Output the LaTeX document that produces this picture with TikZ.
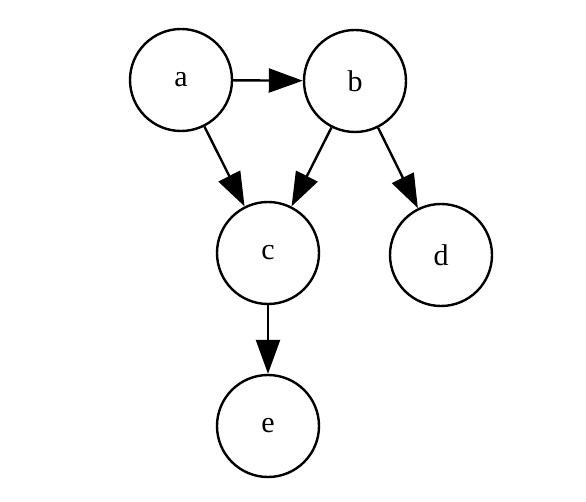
\documentclass[tikz,border=0pt]{standalone}
\usepackage{fontspec}
\setmainfont{Liberation Serif}
\usetikzlibrary{arrows.meta}
\begin{document}
\begin{tikzpicture}[x=1pt,y=-1pt,
  vtx/.style={circle,draw=black,line width=2.4pt,minimum size=102pt,inner sep=0pt,font=\fontsize{30}{36}\selectfont},
  edge/.style={line width=2.4pt,-{Triangle[length=34pt,width=24pt]}}]
\useasboundingbox (0,0) rectangle (586,502);
\node[vtx] (a) at (181,80) {a};
\node[vtx] (b) at (355,81) {b};
\node[vtx] (c) at (268,253) {c};
\node[vtx] (d) at (441,255) {d};
\node[vtx] (e) at (268,426) {e};
\draw[edge] (a) -- (b);
\draw[edge] (a) -- (c);
\draw[edge] (b) -- (c);
\draw[edge] (b) -- (d);
\draw[edge] (c) -- (e);
\end{tikzpicture}
\end{document}
